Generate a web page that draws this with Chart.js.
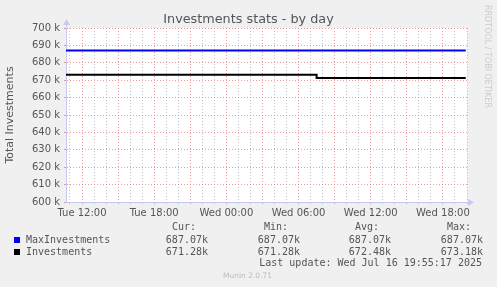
<!DOCTYPE html>
<html>
<head>
<meta charset="utf-8">
<script src="https://cdn.jsdelivr.net/npm/chart.js@4.4.1/dist/chart.umd.min.js"></script>
<style>
  body { margin: 0; background: #f0f0f0; }
  #wrap { position: relative; width: 497px; height: 287px; overflow: hidden; }
  .t { position: absolute; font: 10px "DejaVu Sans Mono", monospace; color: #555; line-height: 12px; white-space: pre; }
  .r { text-align: right; }
  #title { position: absolute; left: 0; width: 497px; top: 11px; text-align: center; font: 12.8px "DejaVu Sans", sans-serif; color: #555; }
  #rrd { position: absolute; left: 483px; top: 5px; writing-mode: vertical-rl; font: 8px "DejaVu Sans", sans-serif; color: #ccc; }
  #munin { position: absolute; left: 223px; top: 271px; font: 7.5px "DejaVu Sans", sans-serif; color: #bbb; }
  .sw { position: absolute; width: 6px; height: 6px; }
</style>
</head>
<body>
<div id="wrap">
  <canvas id="chart" width="497" height="287"></canvas>
  <div id="title">Investments stats - by day</div>
  <div id="rrd">RRDTOOL / TOBI OETIKER</div>
  <div id="legend"></div>
  <div class="t r" style="right:15px;top:257px">Last update: Wed Jul 16 19:55:17 2025</div>
  <div id="munin">Munin 2.0.71</div>
</div>
<script>
// hours counted from Tue 00:00
const xMin = 10.67;
const xMax = 44;
const times = [10.67, 31.5, 43.9];
const maxInvestments = [687.07, 687.07, 687.07];
const investments = [673.18, 671.28, 671.28];

const seriesNames = ["MaxInvestments", "Investments"];
const seriesColors = ["#0000ff", "#000000"];
const curValues = ["687.07k", "671.28k"];
const minValues = ["687.07k", "671.28k"];
const avgValues = ["687.07k", "672.48k"];
const maxValues = ["687.07k", "673.18k"];

const redGrid = "rgba(230,120,120,0.75)";
const grayGrid = "rgba(190,190,190,0.9)";
const axisColor = "#c8c8f0";

// legend (text below the chart)
let html = `
  <div class="t" style="left:172px;top:221px">Cur:</div>
  <div class="t" style="left:264px;top:221px">Min:</div>
  <div class="t" style="left:355px;top:221px">Avg:</div>
  <div class="t" style="left:447px;top:221px">Max:</div>`;
seriesNames.forEach((name, i) => {
  const top = 234 + i * 12;
  html += `
  <div class="sw" style="left:14px;top:${top + 3}px;background:${seriesColors[i]}"></div>
  <div class="t" style="left:26px;top:${top}px">${name}</div>
  <div class="t r" style="right:289px;top:${top}px">${curValues[i]}</div>
  <div class="t r" style="right:197px;top:${top}px">${minValues[i]}</div>
  <div class="t r" style="right:106px;top:${top}px">${avgValues[i]}</div>
  <div class="t r" style="right:14px;top:${top}px">${maxValues[i]}</div>`;
});
document.getElementById("legend").innerHTML = html;

function hourLabel(h) {
  const day = h < 24 ? "Tue" : "Wed";
  const hh = String(h % 24).padStart(2, "0");
  return `${day} ${hh}:00`;
}

const plotBackground = {
  id: "plotBackground",
  beforeDraw(chart) {
    const { ctx, chartArea: a } = chart;
    ctx.save();
    ctx.fillStyle = "#ffffff";
    ctx.fillRect(a.left, a.top, a.right - a.left, a.bottom - a.top);
    ctx.restore();
  },
  afterDraw(chart) {
    const { ctx, chartArea: a } = chart;
    ctx.save();
    ctx.strokeStyle = axisColor;
    ctx.fillStyle = axisColor;
    ctx.lineWidth = 1;
    ctx.beginPath();
    ctx.moveTo(a.left + 0.5, a.top);
    ctx.lineTo(a.left + 0.5, a.top - 4);
    ctx.moveTo(a.right, a.bottom + 0.5);
    ctx.lineTo(a.right + 3, a.bottom + 0.5);
    ctx.stroke();
    ctx.beginPath();
    ctx.moveTo(a.left + 0.5, a.top - 9);
    ctx.lineTo(a.left - 3, a.top - 3);
    ctx.lineTo(a.left + 4, a.top - 3);
    ctx.closePath();
    ctx.fill();
    ctx.beginPath();
    ctx.moveTo(a.right + 7, a.bottom + 0.5);
    ctx.lineTo(a.right + 1, a.bottom - 3);
    ctx.lineTo(a.right + 1, a.bottom + 4);
    ctx.closePath();
    ctx.fill();
    ctx.restore();
  }
};

new Chart(document.getElementById("chart"), {
  type: "line",
  data: {
    datasets: [
      {
        label: seriesNames[0],
        data: times.map((t, i) => ({ x: t, y: maxInvestments[i] })),
        borderColor: seriesColors[0],
        borderWidth: 2,
        pointRadius: 0,
        stepped: "before"
      },
      {
        label: seriesNames[1],
        data: times.map((t, i) => ({ x: t, y: investments[i] })),
        borderColor: seriesColors[1],
        borderWidth: 2,
        pointRadius: 0,
        stepped: "before"
      }
    ]
  },
  options: {
    responsive: false,
    devicePixelRatio: 1,
    animation: false,
    layout: { padding: { left: 0, right: 30, top: 28, bottom: 0 } },
    plugins: { legend: { display: false }, tooltip: { enabled: false } },
    scales: {
      x: {
        type: "linear",
        min: xMin,
        max: xMax,
        afterFit: (s) => { s.height = 85; },
        ticks: {
          stepSize: 1,
          includeBounds: false,
          autoSkip: false,
          maxRotation: 0,
          padding: 3,
          color: "#555",
          font: { family: "DejaVu Sans", size: 10 },
          callback: (v) => (v % 6 === 0 ? hourLabel(v) : "")
        },
        grid: {
          color: (c) => (c.tick && c.tick.value % 3 === 0 ? redGrid : grayGrid),
          tickColor: (c) => (c.tick && c.tick.value % 3 === 0 ? redGrid : grayGrid),
          tickLength: 2,
          lineWidth: 1
        },
        border: { color: axisColor, dash: [1, 2] }
      },
      y: {
        min: 600,
        max: 700,
        afterFit: (s) => { s.width = 66; },
        ticks: {
          stepSize: 5,
          padding: 4,
          color: "#555",
          font: { family: "DejaVu Sans", size: 10 },
          callback: (v) => (v % 10 === 0 ? v + " k" : "")
        },
        grid: {
          color: (c) => (c.tick && c.tick.value % 10 === 0 ? redGrid : grayGrid),
          tickColor: (c) => (c.tick && c.tick.value % 10 === 0 ? redGrid : grayGrid),
          tickLength: 2,
          lineWidth: 1
        },
        border: { color: axisColor, dash: [1, 2] },
        title: {
          display: true,
          text: "Total Investments",
          color: "#555",
          font: { family: "DejaVu Sans", size: 11 },
          padding: { top: 4, bottom: 0 }
        }
      }
    }
  },
  plugins: [plotBackground]
});
</script>
</body>
</html>
